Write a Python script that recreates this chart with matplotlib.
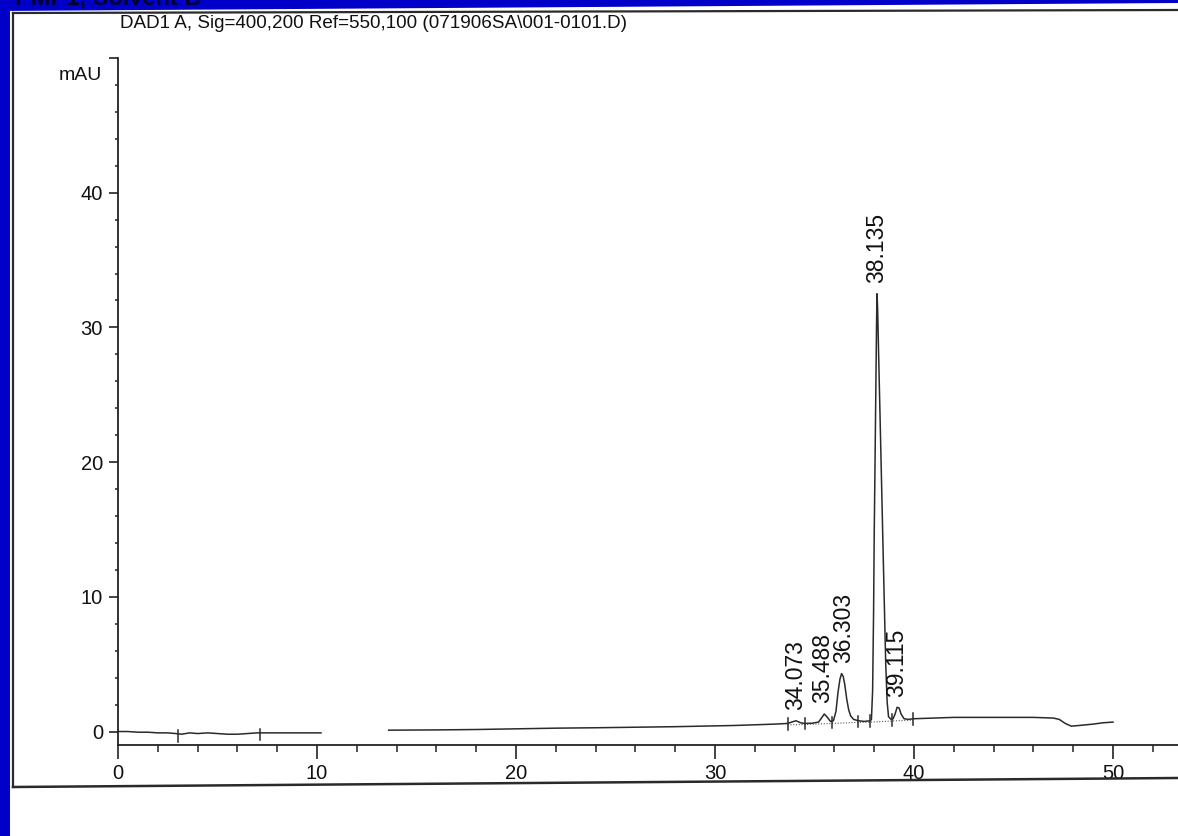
import matplotlib
matplotlib.use("Agg")
import matplotlib.pyplot as plt
from matplotlib import font_manager
from matplotlib.lines import Line2D
from matplotlib.patches import Rectangle, Polygon
import numpy as np

# trace, split where the print has a gap (10-13.5 min)
trace_a_t = [0, 0.5, 1.0, 1.5, 2.0, 2.5, 2.9, 3.2, 3.6, 4.0, 4.5, 5.0, 5.5,
             6.0, 6.5, 7.0, 7.5, 8.0, 8.5, 9.0, 9.5, 10.2]
trace_a_y = [0.0, 0.0, -0.05, -0.05, -0.1, -0.1, -0.15, -0.2, -0.1, -0.15,
             -0.1, -0.15, -0.2, -0.2, -0.15, -0.1, -0.1, -0.1, -0.1, -0.1,
             -0.1, -0.1]

trace_b_t = [13.6, 16, 18, 20, 22, 24, 26, 28, 30, 31, 32, 33, 33.65, 33.85,
             34.07, 34.3, 34.5, 34.9, 35.2, 35.35, 35.49, 35.65, 35.8, 35.95,
             36.08, 36.18, 36.28, 36.36, 36.44, 36.52, 36.62, 36.72, 36.82,
             36.97, 37.2, 37.5, 37.8, 37.86, 37.92, 37.97, 38.0, 38.05, 38.09,
             38.12, 38.14, 38.17, 38.23, 38.3, 38.4, 38.5, 38.58, 38.65, 38.72,
             38.85, 38.95, 39.05, 39.15, 39.25, 39.35, 39.5, 39.7, 40, 41, 42,
             43, 44, 45, 46, 47, 47.3, 47.6, 47.9, 48.3, 49, 49.5, 50]
trace_b_y = [0.1, 0.12, 0.15, 0.2, 0.25, 0.28, 0.32, 0.36, 0.42, 0.45, 0.5,
             0.55, 0.6, 0.7, 0.8, 0.65, 0.6, 0.62, 0.7, 1.0, 1.3, 1.05, 0.75,
             0.8, 1.5, 2.9, 3.9, 4.3, 4.1, 3.5, 2.4, 1.6, 1.15, 0.9, 0.8, 0.75,
             0.8, 0.9, 3.0, 9.0, 14.5, 21, 26.5, 30.5, 32.5, 31.5, 27.5, 23,
             16.5, 10, 5, 2.2, 1.1, 0.9, 0.95, 1.3, 1.8, 1.75, 1.3, 0.95, 0.9,
             0.95, 1.0, 1.05, 1.05, 1.05, 1.05, 1.05, 1.0, 0.9, 0.6, 0.4, 0.45,
             0.55, 0.65, 0.7]

peak_rt = [34.073, 35.488, 36.303, 38.135, 39.115]
peak_h = [0.8, 1.3, 4.3, 32.5, 1.8]
peak_labels = ["34.073", "35.488", "36.303", "38.135", "39.115"]

# integration events and dotted baseline
event_t = [3.0, 7.15, 33.65, 34.5, 35.9, 37.2, 37.8, 38.9, 39.95]
event_y = [-0.4, -0.3, 0.5, 0.52, 0.6, 0.68, 0.7, 0.78, 0.85]
base_t = [33.65, 34.5, 35.9, 37.2, 37.8, 38.9, 39.95]
base_y = [0.5, 0.52, 0.6, 0.68, 0.7, 0.78, 0.85]

x_major = [0, 10, 20, 30, 40, 50]
y_major = [0, 10, 20, 30, 40, 50]
y_labels = ["0", "10", "20", "30", "40", ""]

title = r"DAD1 A, Sig=400,200 Ref=550,100 (071906SA\001-0101.D)"
top_note = "PMP1, Solvent B"

axis_font = ["Liberation Sans", "DejaVu Sans"]
ink = "#111111"

W, H = 1178, 836
fig = plt.figure(figsize=(W / 100, H / 100), dpi=100)
fig.patch.set_facecolor("white")

blue = "#0000c8"
fig.add_artist(Rectangle((0, 0), 10 / W, 1, transform=fig.transFigure,
                         facecolor=blue, edgecolor="none", zorder=0))
fig.add_artist(Polygon([(0, 1), (1, 1), (1, 1 - 3 / H), (0, 1 - 11 / H)],
                       closed=True, transform=fig.transFigure,
                       facecolor=blue, edgecolor="none", zorder=0))
fig.text(15 / W, 1 - 4 / H, top_note, fontsize=17, fontweight="bold",
         family=axis_font, color="#000030", ha="left", va="baseline")

# page frame lines from the printout
frame = "#2a2a2a"
fig.add_artist(Line2D([13 / W, 13 / W], [1 - 13 / H, 1 - 787 / H],
                      transform=fig.transFigure, color=frame, lw=1.6))
fig.add_artist(Line2D([13 / W, 1], [1 - 13 / H, 1 - 10 / H],
                      transform=fig.transFigure, color=frame, lw=1.6))
fig.add_artist(Line2D([13 / W, 1], [1 - 787 / H, 1 - 778 / H],
                      transform=fig.transFigure, color=frame, lw=1.8))

fig.text(120 / W, 1 - 24 / H, title, fontsize=13.6, family=axis_font,
         ha="left", va="center", color=ink)

ax = fig.add_axes([118 / W, 1 - 745 / H, (W - 118) / W, (745 - 58) / H])
ax.set_facecolor("none")
ax.set_xlim(0, (W - 118) / 19.9)
ax.set_ylim(-1, 50)

ax.plot(trace_a_t, trace_a_y, color="#2a2a2a", lw=1.1)
ax.plot(trace_b_t, trace_b_y, color="#2a2a2a", lw=1.1)
ax.plot(base_t, base_y, color="#555555", lw=0.8, ls=(0, (1, 1.5)))
for t, y in zip(event_t, event_y):
    ax.plot([t, t], [y - 0.35, y + 0.5], color="#2a2a2a", lw=1.1)

# small sideways nudges keep the two close labels apart, as on the print
nudge = [0, -1, 2.5, 0, 0]
for t, h, s, dx in zip(peak_rt, peak_h, peak_labels, nudge):
    ax.annotate(s, (t, h + 0.8), xytext=(dx, 0), textcoords="offset points",
                rotation=90, ha="center", va="bottom", fontsize=16.5,
                family=axis_font, color=ink)

for side in ["top", "right"]:
    ax.spines[side].set_visible(False)
for side in ["left", "bottom"]:
    ax.spines[side].set_linewidth(1.3)
    ax.spines[side].set_color("#222222")

ax.set_xticks(x_major)
ax.set_xticks(np.arange(2, 54, 2), minor=True)
ax.set_yticks(y_major)
ax.set_yticklabels(y_labels)
ax.set_yticks(np.arange(2, 50, 2), minor=True)
ax.tick_params(axis="x", which="major", direction="out", length=10, width=1.2,
               pad=3.6, labelsize=14.5, colors="#222222")
ax.tick_params(axis="x", which="minor", direction="out", length=5, width=1.1,
               colors="#222222")
ax.tick_params(axis="y", which="major", direction="out", length=6.5, width=1.2,
               pad=4.3, labelsize=14.5, colors="#222222")
ax.tick_params(axis="y", which="minor", direction="out", length=2.5, width=1.1,
               colors="#222222")
for lab in ax.get_xticklabels() + ax.get_yticklabels():
    lab.set_family(axis_font)
    lab.set_color(ink)

ax.text(-16 / 19.9, 48.7, "mAU", ha="right", va="center", fontsize=14,
        family=axis_font, color=ink)

fig.savefig("out.png", dpi=100, facecolor="white")
